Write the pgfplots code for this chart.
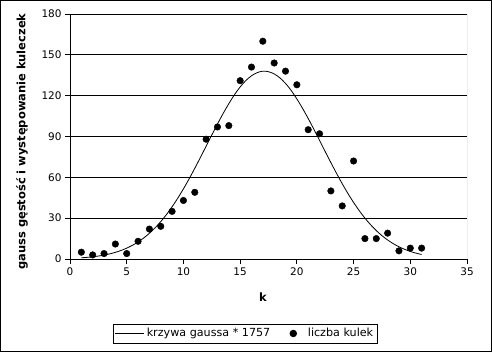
\documentclass[border=0pt]{standalone}
\usepackage{pgfplots}
\pgfplotsset{compat=1.18}
\usepackage{fontspec}
\setmainfont{DejaVu Sans}
\begin{document}
\begin{tikzpicture}[x=1bp,y=1bp]
\useasboundingbox (0,0) rectangle (492,352);
\draw[black,line width=1bp] (0.5,0.5) rectangle (491.5,351.5);
\begin{axis}[
  at={(70bp,93bp)}, anchor=south west,
  scale only axis, width=397bp, height=245bp,
  xmin=0, xmax=35, ymin=0, ymax=180,
  xtick={0,5,...,35}, ytick={0,30,...,180},
  axis x line*=bottom, axis y line*=left,
  axis line style={black, line width=0.8bp, -},
  tick align=outside, major tick length=5bp,
  tick style={black, line width=0.8bp},
  ymajorgrids, grid style={black, line width=0.8bp},
  /pgf/number format/assume math mode=true,
  ticklabel style={font=\fontsize{10.5}{12}\selectfont},
  xlabel={\textbf{k}}, ylabel={\textbf{gauss gęstość i występowanie kuleczek}},
  xlabel style={at={(axis description cs:0.486,-0.155)}, anchor=center, font=\fontsize{11.5}{13}\selectfont},
  ylabel style={at={(axis description cs:-0.121,0.48)}, anchor=center, font=\fontsize{11.5}{13}\selectfont},
  legend columns=2,
  legend style={at={(0.441,-0.304)}, anchor=center, draw=black, line width=0.8bp,
    font=\fontsize{11.2}{13}\selectfont, inner xsep=2bp, inner ysep=2.5bp,
    /tikz/every even column/.append style={column sep=16bp}},
  legend image code/.code={\draw[#1] (0bp,0bp) -- (29bp,0bp);},
]
\addplot[black, line width=0.8bp, smooth, no markers] coordinates {
(1,0.89) (1.5,1.21) (2,1.64) (2.5,2.18) (3,2.88) (3.5,3.77) (4,4.89) (4.5,6.27)
(5,7.98) (5.5,10.04) (6,12.52) (6.5,15.46) (7,18.91) (7.5,22.88) (8,27.45) (8.5,32.60)
(9,38.35) (9.5,44.67) (10,51.53) (10.5,58.88) (11,66.63) (11.5,74.67) (12,82.87) (12.5,91.09)
(13,99.17) (13.5,106.9) (14,114.1) (14.5,120.7) (15,126.4) (15.5,131.1) (16,134.6) (16.5,136.9)
(17,138.0) (17.5,137.6) (18,136.0) (18.5,133.1) (19,129.0) (19.5,123.8) (20,117.6) (20.5,110.7)
(21,103.2) (21.5,95.32) (22,87.16) (22.5,78.92) (23,70.79) (23.5,62.87) (24,55.30) (24.5,48.17)
(25,41.56) (25.5,35.52) (26,30.05) (26.5,25.18) (27,20.90) (27.5,17.18) (28,13.98) (28.5,11.27)
(29,9.00) (29.5,7.12) (30,5.57) (30.5,4.32) (31,3.32)
};
\addlegendentry{krzywa gaussa * 1757}
\addplot[only marks, mark=*, mark size=3.3bp, black, legend image code/.code={\path[draw=none,fill=none] (0bp,0bp) -- (17.6bp,0bp); \fill[black] (5bp,0bp) circle (3.3bp);}] coordinates {
(1,5) (2,3) (3,4) (4,11) (5,4) (6,13) (7,22) (8,24) (9,35) (10,43)
(11,49) (12,88) (13,97) (14,98) (15,131) (16,141) (17,160) (18,144) (19,138) (20,128)
(21,95) (22,92) (23,50) (24,39) (25,72) (26,15) (27,15) (28,19) (29,6) (30,8) (31,8)
};
\addlegendentry{liczba kulek}
\draw[gray, line width=0.8bp] (rel axis cs:1,0) -- (rel axis cs:1,1);
\end{axis}
\end{tikzpicture}
\end{document}
